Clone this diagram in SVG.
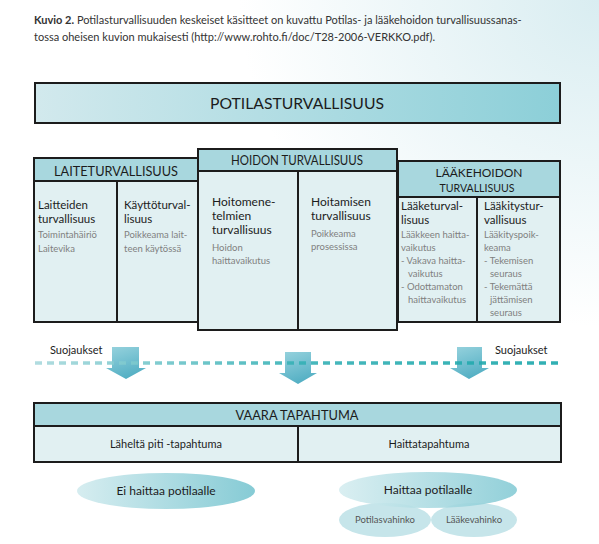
<svg xmlns="http://www.w3.org/2000/svg" width="599" height="544" viewBox="0 0 599 544">
<defs>
<linearGradient id="gTop" x1="0" y1="0" x2="1" y2="0"><stop offset="0" stop-color="#d2e9ed"/><stop offset="1" stop-color="#8ccfd8"/></linearGradient>
<linearGradient id="gEll" x1="0" y1="0" x2="1" y2="0"><stop offset="0" stop-color="#d6edf0"/><stop offset="1" stop-color="#86cbd5"/></linearGradient>
<linearGradient id="gDash" gradientUnits="userSpaceOnUse" x1="35" y1="363" x2="560" y2="363"><stop offset="0" stop-color="#a9d9dd"/><stop offset="0.5" stop-color="#35b1b6"/><stop offset="1" stop-color="#1aa7ab"/></linearGradient>
<linearGradient id="gArr" x1="0" y1="0" x2="0.4" y2="1"><stop offset="0" stop-color="#8fcfdb"/><stop offset="1" stop-color="#46a9bf"/></linearGradient>
<radialGradient id="gBg" cx="1" cy="0" r="0.6"><stop offset="0" stop-color="#d9edf1"/><stop offset="1" stop-color="#ffffff"/></radialGradient>
<style>
text{font-family:Lato,"Open Sans","Liberation Sans",sans-serif;}
.cap{font-size:11px;fill:#333;}
.box{stroke:#1c1c1c;stroke-width:2;}
.hdr{fill:#a8d7de;}
.body{fill:#e1f0f2;}
.ht{font-size:13px;fill:#1c1c1c;text-anchor:middle;}
.ht2{font-size:12px;fill:#1c1c1c;text-anchor:middle;}
.h2{font-size:11.5px;fill:#1c1c1c;}
.h3{font-size:12px;fill:#1c1c1c;}
.g{font-size:9.5px;fill:#808080;}
.line{stroke:#1c1c1c;stroke-width:2;fill:none;}
.ell{font-size:12px;fill:#1c1c1c;text-anchor:middle;}
.sm{font-size:9.5px;fill:#555;text-anchor:middle;}
</style>
</defs>
<rect x="0" y="0" width="599" height="544" fill="url(#gBg)"/>
<g id="caption">
<text class="cap" x="34" y="24"><tspan font-weight="bold">Kuvio 2.</tspan> Potilasturvallisuuden keskeiset käsitteet on kuvattu Potilas- ja lääkehoidon turvallisuussanas-</text>
<text class="cap" x="34" y="41">tossa oheisen kuvion mukaisesti (http://www.rohto.fi/doc/T28-2006-VERKKO.pdf).</text>
</g>
<g id="potilasturvallisuus">
<rect class="box" x="35" y="83" width="525" height="40" fill="url(#gTop)"/>
<text x="297" y="109" font-size="16" fill="#1c1c1c" text-anchor="middle" textLength="174" lengthAdjust="spacingAndGlyphs">POTILASTURVALLISUUS</text>
</g>
<g id="laiteturvallisuus">
<rect class="body" x="34" y="158" width="164" height="164"/>
<rect class="hdr" x="34" y="158" width="164" height="23"/>
<rect class="box" x="34" y="158" width="164" height="164" fill="none"/>
<line class="line" x1="34" y1="181" x2="198" y2="181"/>
<line class="line" x1="117" y1="181" x2="117" y2="322"/>
<text class="ht" x="116" y="176" textLength="124" lengthAdjust="spacingAndGlyphs">LAITETURVALLISUUS</text>
<text class="h2" x="38" y="209">Laitteiden</text>
<text class="h2" x="38" y="223">turvallisuus</text>
<text class="g" x="38" y="238">Toimintahäiriö</text>
<text class="g" x="38" y="252">Laitevika</text>
<text class="h2" x="124" y="209">Käyttöturval-</text>
<text class="h2" x="124" y="223">lisuus</text>
<text class="g" x="124" y="238">Poikkeama lait-</text>
<text class="g" x="124" y="252">teen käytössä</text>
</g>
<g id="laakehoidon">
<rect class="body" x="398" y="161" width="162" height="161"/>
<rect class="hdr" x="398" y="161" width="162" height="36"/>
<rect class="box" x="398" y="161" width="162" height="161" fill="none"/>
<line class="line" x1="398" y1="197" x2="560" y2="197"/>
<line class="line" x1="477" y1="197" x2="477" y2="322"/>
<text class="ht2" x="479" y="177" textLength="87" lengthAdjust="spacingAndGlyphs">LÄÄKEHOIDON</text>
<text class="ht2" x="477" y="192" textLength="75" lengthAdjust="spacingAndGlyphs">TURVALLISUUS</text>
<text class="h2" x="401" y="210">Lääketurval-</text>
<text class="h2" x="401" y="224">lisuus</text>
<text class="g" x="401" y="238">Lääkkeen haitta-</text>
<text class="g" x="401" y="251">vaikutus</text>
<text class="g" x="401" y="264">- Vakava haitta-</text>
<text class="g" x="408" y="277">vaikutus</text>
<text class="g" x="401" y="290">- Odottamaton</text>
<text class="g" x="408" y="303">haittavaikutus</text>
<text class="h2" x="484" y="210">Lääkitystur-</text>
<text class="h2" x="484" y="224">vallisuus</text>
<text class="g" x="484" y="238">Lääkityspoik-</text>
<text class="g" x="484" y="251">keama</text>
<text class="g" x="484" y="264">- Tekemisen</text>
<text class="g" x="490" y="277">seuraus</text>
<text class="g" x="484" y="290">- Tekemättä</text>
<text class="g" x="490" y="303">jättämisen</text>
<text class="g" x="490" y="316">seuraus</text>
</g>
<g id="hoidon">
<rect class="body" x="198" y="149" width="199" height="181"/>
<rect class="hdr" x="198" y="149" width="199" height="22"/>
<rect class="box" x="198" y="149" width="199" height="181" fill="none"/>
<line class="line" x1="198" y1="171" x2="397" y2="171"/>
<line class="line" x1="298" y1="171" x2="298" y2="330"/>
<text class="ht" x="297" y="165" textLength="132" lengthAdjust="spacingAndGlyphs">HOIDON TURVALLISUUS</text>
<text class="h3" x="212" y="206">Hoitomene-</text>
<text class="h3" x="212" y="220">telmien</text>
<text class="h3" x="212" y="234">turvallisuus</text>
<text class="g" x="212" y="251">Hoidon</text>
<text class="g" x="212" y="264">haittavaikutus</text>
<text class="h3" x="311" y="206">Hoitamisen</text>
<text class="h3" x="311" y="220">turvallisuus</text>
<text class="g" x="311" y="237">Poikkeama</text>
<text class="g" x="311" y="250">prosessissa</text>
</g>
<g id="connectors">
<polygon points="112,347 139,347 139,368 146,368 126,379 106,368 112,368" fill="url(#gArr)" opacity="0.92"/>
<polygon points="285,352 311,352 311,373 317,373 298,384 279,373 285,373" fill="url(#gArr)" opacity="0.92"/>
<polygon points="457,347 482,347 482,368 489,368 469,379 450,368 457,368" fill="url(#gArr)" opacity="0.92"/>
<line x1="35" y1="363" x2="560" y2="363" stroke="url(#gDash)" stroke-width="3.5" stroke-dasharray="7 5" opacity="0.9"/>
<text x="50" y="354" font-size="11" fill="#1c1c1c">Suojaukset</text>
<text x="495" y="354" font-size="11" fill="#1c1c1c">Suojaukset</text>
</g>
<g id="vaara">
<rect class="body" x="34" y="403" width="527" height="59"/>
<rect class="hdr" x="34" y="403" width="527" height="23"/>
<rect class="box" x="34" y="403" width="527" height="59" fill="none"/>
<line class="line" x1="34" y1="426" x2="561" y2="426"/>
<line class="line" x1="298" y1="426" x2="298" y2="462"/>
<text class="ht" x="297" y="420" textLength="123" lengthAdjust="spacingAndGlyphs">VAARA TAPAHTUMA</text>
<text x="166" y="448" font-size="11" fill="#1c1c1c" text-anchor="middle">Läheltä piti -tapahtuma</text>
<text x="429" y="448" font-size="11" fill="#1c1c1c" text-anchor="middle">Haittatapahtuma</text>
</g>
<g id="ei-haittaa">
<ellipse cx="166" cy="491" rx="89" ry="18" fill="url(#gEll)"/>
<text class="ell" x="166" y="495">Ei haittaa potilaalle</text>
</g>
<g id="potilasvahinko">
<ellipse cx="385" cy="520" rx="46" ry="17" fill="#c6e5ea"/>
<text class="sm" x="385" y="523">Potilasvahinko</text>
</g>
<g id="laakevahinko">
<ellipse cx="474" cy="520" rx="43" ry="17" fill="#c6e5ea"/>
<text class="sm" x="474" y="523">Lääkevahinko</text>
</g>
<g id="haittaa">
<ellipse cx="428" cy="490" rx="89" ry="18" fill="url(#gEll)" opacity="0.9"/>
<text class="ell" x="428" y="494">Haittaa potilaalle</text>
</g>
</svg>
